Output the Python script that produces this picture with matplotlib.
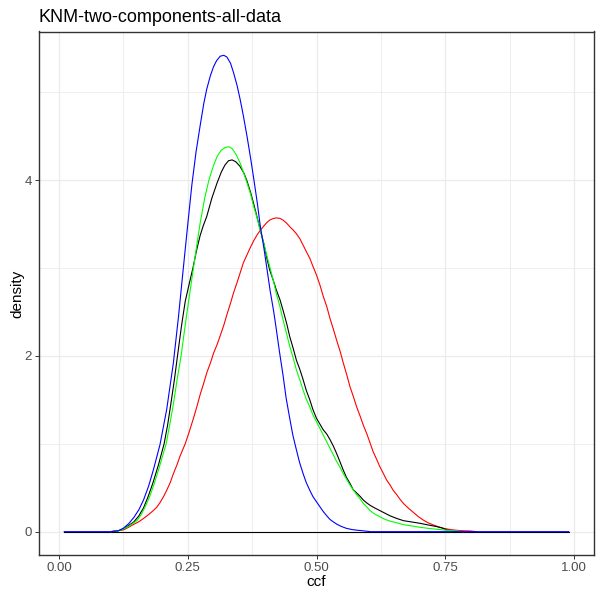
import numpy as np
import matplotlib.pyplot as plt
from matplotlib.ticker import MultipleLocator

plt.rcParams['font.family'] = ['Liberation Sans', 'DejaVu Sans']

# density curves
blue_x = [0.01, 0.10, 0.115, 0.125, 0.135, 0.145, 0.155, 0.164, 0.174, 0.183, 0.196, 0.209, 0.222,
          0.232, 0.241, 0.25, 0.258, 0.266, 0.274, 0.281, 0.287, 0.294, 0.30, 0.306, 0.313, 0.32,
          0.326, 0.333, 0.339, 0.346, 0.352, 0.358, 0.365, 0.372, 0.378, 0.385, 0.391, 0.398,
          0.404, 0.41, 0.417, 0.422, 0.428, 0.435, 0.441, 0.448, 0.454, 0.461, 0.467, 0.474,
          0.48, 0.487, 0.493, 0.50, 0.507, 0.513, 0.52, 0.526, 0.533, 0.539, 0.548, 0.558,
          0.568, 0.578, 0.59, 0.605, 0.99]
blue_y = [0, 0, 0.01, 0.04, 0.09, 0.16, 0.25, 0.36, 0.52, 0.70, 0.99, 1.39, 1.92,
          2.45, 2.98, 3.5, 3.95, 4.32, 4.62, 4.87, 5.04, 5.19, 5.29, 5.36, 5.41, 5.42,
          5.40, 5.33, 5.22, 5.07, 4.91, 4.73, 4.50, 4.25, 4.02, 3.74, 3.47, 3.22,
          2.98, 2.74, 2.50, 2.30, 2.05, 1.78, 1.52, 1.29, 1.10, 0.93, 0.79, 0.66,
          0.56, 0.47, 0.40, 0.34, 0.28, 0.23, 0.18, 0.14, 0.11, 0.087, 0.06, 0.038,
          0.025, 0.017, 0.01, 0, 0]

green_x = [0.10, 0.115, 0.125, 0.135, 0.145, 0.152, 0.159, 0.167, 0.176, 0.185, 0.196, 0.208,
           0.215, 0.222, 0.229, 0.237, 0.245, 0.253, 0.261, 0.268, 0.274, 0.283, 0.291, 0.299,
           0.307, 0.315, 0.3225, 0.3295, 0.336, 0.344, 0.352, 0.358, 0.365, 0.372, 0.378, 0.385,
           0.391, 0.398, 0.404, 0.409, 0.416, 0.422, 0.429, 0.435, 0.442, 0.448, 0.455, 0.461,
           0.468, 0.474, 0.48, 0.487, 0.493, 0.50, 0.507, 0.513, 0.52, 0.526, 0.533, 0.539,
           0.546, 0.552, 0.559, 0.565, 0.572, 0.578, 0.585, 0.591, 0.598, 0.604, 0.613, 0.623,
           0.633, 0.643, 0.656, 0.669, 0.685, 0.701, 0.718, 0.734, 0.753, 0.773, 0.785]
green_y = [0, 0.01, 0.03, 0.06, 0.10, 0.13, 0.19, 0.28, 0.40, 0.55, 0.76, 1.0,
           1.22, 1.45, 1.72, 2.0, 2.35, 2.68, 3.0, 3.28, 3.51, 3.80, 4.0, 4.15,
           4.27, 4.34, 4.37, 4.38, 4.36, 4.29, 4.19, 4.09, 3.97, 3.84, 3.70, 3.56,
           3.42, 3.27, 3.13, 3.02, 2.86, 2.71, 2.56, 2.41, 2.25, 2.11, 1.97, 1.84,
           1.72, 1.61, 1.51, 1.42, 1.33, 1.25, 1.17, 1.10, 1.02, 0.95, 0.87, 0.80,
           0.73, 0.66, 0.59, 0.53, 0.47, 0.42, 0.37, 0.32, 0.28, 0.24, 0.20, 0.17,
           0.14, 0.12, 0.10, 0.08, 0.065, 0.05, 0.037, 0.027, 0.016, 0.008, 0]

black_x = [0.10, 0.115, 0.125, 0.135, 0.145, 0.155, 0.164, 0.173, 0.182, 0.193, 0.204, 0.211,
           0.217, 0.224, 0.23, 0.238, 0.245, 0.252, 0.26, 0.267, 0.274, 0.28, 0.287, 0.297,
           0.307, 0.315, 0.322, 0.329, 0.336, 0.343, 0.351, 0.359, 0.365, 0.372, 0.378, 0.385,
           0.391, 0.398, 0.404, 0.409, 0.416, 0.422, 0.429, 0.435, 0.442, 0.448, 0.455, 0.461,
           0.468, 0.474, 0.48, 0.487, 0.493, 0.50, 0.507, 0.513, 0.52, 0.526, 0.533, 0.539,
           0.546, 0.552, 0.558, 0.565, 0.571, 0.578, 0.585, 0.591, 0.597, 0.604, 0.613, 0.623,
           0.633, 0.643, 0.656, 0.669, 0.685, 0.701, 0.718, 0.734, 0.745, 0.753, 0.763, 0.773]
black_y = [0, 0.01, 0.03, 0.07, 0.11, 0.18, 0.27, 0.40, 0.55, 0.76, 1.0, 1.22,
           1.45, 1.73, 2.0, 2.35, 2.62, 2.80, 3.0, 3.2, 3.37, 3.48, 3.59, 3.80,
           3.97, 4.09, 4.17, 4.22, 4.23, 4.21, 4.16, 4.08, 3.99, 3.86, 3.73, 3.57,
           3.43, 3.27, 3.10, 2.98, 2.86, 2.75, 2.64, 2.52, 2.37, 2.22, 2.08, 1.95,
           1.84, 1.73, 1.61, 1.50, 1.39, 1.29, 1.22, 1.16, 1.11, 1.05, 0.97, 0.89,
           0.79, 0.70, 0.62, 0.55, 0.48, 0.44, 0.40, 0.36, 0.33, 0.30, 0.27, 0.24,
           0.21, 0.18, 0.15, 0.125, 0.11, 0.095, 0.075, 0.057, 0.04, 0.02, 0.008, 0]

red_x = [0.10, 0.112, 0.125, 0.135, 0.144, 0.154, 0.164, 0.173, 0.183, 0.19, 0.196, 0.203,
         0.209, 0.216, 0.222, 0.229, 0.235, 0.24, 0.245, 0.253, 0.261, 0.268, 0.274, 0.281,
         0.287, 0.294, 0.30, 0.307, 0.313, 0.32, 0.326, 0.333, 0.339, 0.346, 0.352, 0.358,
         0.365, 0.372, 0.378, 0.385, 0.391, 0.398, 0.404, 0.409, 0.416, 0.422, 0.429, 0.435,
         0.442, 0.448, 0.455, 0.461, 0.468, 0.474, 0.48, 0.487, 0.493, 0.50, 0.507, 0.513,
         0.52, 0.526, 0.533, 0.539, 0.546, 0.552, 0.559, 0.565, 0.572, 0.578, 0.585, 0.591,
         0.598, 0.604, 0.61, 0.617, 0.623, 0.63, 0.636, 0.643, 0.649, 0.656, 0.662, 0.669,
         0.678, 0.688, 0.698, 0.708, 0.717, 0.727, 0.737, 0.747, 0.76, 0.773, 0.786, 0.799, 0.81]
red_y = [0, 0.01, 0.02, 0.05, 0.08, 0.11, 0.15, 0.19, 0.24, 0.28, 0.33, 0.40,
         0.47, 0.56, 0.66, 0.76, 0.86, 0.93, 1.0, 1.14, 1.29, 1.43, 1.56, 1.69,
         1.81, 1.92, 2.03, 2.13, 2.23, 2.35, 2.47, 2.60, 2.72, 2.84, 2.95, 3.06,
         3.15, 3.24, 3.31, 3.38, 3.43, 3.48, 3.52, 3.545, 3.563, 3.57, 3.565, 3.545,
         3.51, 3.47, 3.43, 3.39, 3.33, 3.26, 3.19, 3.11, 3.02, 2.92, 2.80, 2.68,
         2.56, 2.43, 2.30, 2.18, 2.05, 1.92, 1.78, 1.65, 1.53, 1.42, 1.31, 1.21,
         1.11, 1.01, 0.91, 0.82, 0.74, 0.66, 0.59, 0.53, 0.47, 0.42, 0.37, 0.32,
         0.27, 0.22, 0.17, 0.13, 0.10, 0.076, 0.055, 0.038, 0.024, 0.015, 0.01, 0.008, 0]

base_x = [0.01, 0.99]
base_y = [0, 0]

fig = plt.figure(figsize=(6, 6), dpi=100)
ax = fig.add_axes([0.065, 0.0742, 0.925, 0.8733])

lw = 0.8
ax.plot(base_x, base_y, color='black', lw=lw)
ax.plot(red_x, red_y, color='red', lw=lw)
ax.plot(black_x, black_y, color='black', lw=lw)
ax.plot(green_x, green_y, color='#00FF00', lw=lw)
ax.plot(blue_x, blue_y, color='blue', lw=lw)

# ggplot-like expansion
xs = blue_x + green_x + black_x + red_x + base_x
ys = blue_y + green_y + black_y + red_y
xr = max(xs) - min(xs)
yr = max(ys) - min(ys)
ax.set_xlim(min(xs) - 0.05 * xr, max(xs) + 0.05 * xr)
ax.set_ylim(min(ys) - 0.05 * yr, max(ys) + 0.05 * yr)

ax.xaxis.set_minor_locator(MultipleLocator(0.125))
ax.yaxis.set_minor_locator(MultipleLocator(1))
ax.set_xticks([0, 0.25, 0.5, 0.75, 1.0])
ax.set_xticklabels(['0.00', '0.25', '0.50', '0.75', '1.00'])
ax.set_yticks([0, 2, 4])
ax.set_yticklabels(['0', '2', '4'])

ax.set_axisbelow(True)
ax.grid(which='major', color='#EBEBEB', lw=0.9)
ax.grid(which='minor', color='#EBEBEB', lw=0.6)
ax.tick_params(which='major', length=3, width=0.7, color='#333333',
               labelcolor='#4D4D4D', labelsize=9.5, pad=2)
ax.tick_params(which='minor', length=0)
for s in ax.spines.values():
    s.set_color('#333333')
    s.set_linewidth(1.0)

ax.set_xlabel('ccf', fontsize=11, labelpad=0.5)
ax.set_ylabel('density', fontsize=11, labelpad=0.5)
fig.text(0.065, 0.964, 'KNM-two-components-all-data', fontsize=13, va='baseline', ha='left')

fig.savefig('out.png', dpi=100)
